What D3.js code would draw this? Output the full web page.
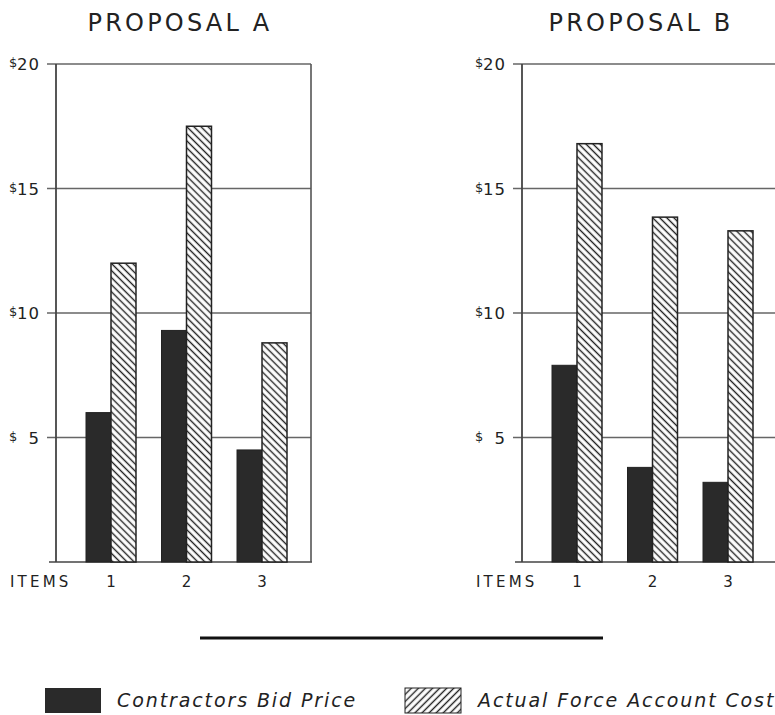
<!DOCTYPE html>
<html><head><meta charset="utf-8">
<script src="https://cdn.jsdelivr.net/npm/d3@7"></script>
<style>
html,body{margin:0;padding:0;background:#fff;}
svg{display:block;}
text{font-family:"DejaVu Sans","Liberation Sans",sans-serif;fill:#222;}
</style></head>
<body>
<svg id="c" width="775" height="715"></svg>
<script>
const proposals = ["PROPOSAL A", "PROPOSAL B"];
const categories = ["1", "2", "3"];
const seriesNames = ["Contractors Bid Price", "Actual Force Account Cost"];
const bidA = [6.0, 9.3, 4.5];
const costA = [12.0, 17.5, 8.8];
const bidB = [7.9, 3.8, 3.2];
const costB = [16.8, 13.85, 13.3];
const yTicks = [5, 10, 15, 20];
const itemsLabel = "ITEMS";

const svg = d3.select("#c");
const defs = svg.append("defs");
function hatch(id, angle){
  const p = defs.append("pattern").attr("id", id).attr("patternUnits","userSpaceOnUse")
    .attr("width",5).attr("height",5).attr("patternTransform","rotate("+angle+")");
  p.append("rect").attr("width",5).attr("height",5).attr("fill","#fff");
  p.append("line").attr("x1",0).attr("x2",5).attr("y1",2.5).attr("y2",2.5)
    .attr("stroke","#222").attr("stroke-width",1.4);
}
hatch("hatchBack", 45);
hatch("hatchFwd", -45);

const plotTop = 64, plotBottom = 562, pw = 255;
const y = d3.scaleLinear().domain([0, 20]).range([plotBottom, plotTop]);
const panels = [
  {title: proposals[0], left: 56, bid: bidA, cost: costA, cx: 180},
  {title: proposals[1], left: 522, bid: bidB, cost: costB, cx: 641}
];

panels.forEach(P => {
  const g = svg.append("g");
  const x = d3.scaleBand().domain(categories).range([P.left + 30, P.left + 231])
    .paddingInner(0.338).paddingOuter(0);
  const xs = d3.scaleBand().domain(["bid","cost"]).range([0, x.bandwidth()]);

  g.selectAll("line.grid").data(yTicks).join("line")
    .attr("x1", P.left - 9).attr("x2", P.left + pw)
    .attr("y1", d => y(d)).attr("y2", d => y(d))
    .attr("stroke", "#666").attr("stroke-width", 1.5);
  g.append("line").attr("x1", P.left - 7).attr("x2", P.left + pw + 1)
    .attr("y1", y(0)).attr("y2", y(0)).attr("stroke","#444").attr("stroke-width",1.6);
  g.append("line").attr("x1", P.left).attr("x2", P.left).attr("y1", y(20)).attr("y2", y(0))
    .attr("stroke","#444").attr("stroke-width",1.8);
  g.append("line").attr("x1", P.left + pw).attr("x2", P.left + pw).attr("y1", y(20)).attr("y2", y(0))
    .attr("stroke","#555").attr("stroke-width",1.6);

  const tl = g.selectAll("g.yt").data(yTicks).join("g").attr("transform", d => `translate(0,${y(d)})`);
  tl.append("text").attr("x", P.left - 47).attr("y", 3).attr("font-size", 13).text("$");
  tl.append("text").attr("x", P.left - 16).attr("y", 6).attr("text-anchor","end")
    .attr("font-size", 16.5).attr("letter-spacing", 1).text(d => d);

  categories.forEach((c, i) => {
    g.append("rect").attr("x", x(c) + xs("bid")).attr("width", xs.bandwidth())
      .attr("y", y(P.bid[i])).attr("height", y(0) - y(P.bid[i]))
      .attr("fill", "#2a2a2a").attr("stroke","#222").attr("stroke-width",1);
    g.append("rect").attr("x", x(c) + xs("cost")).attr("width", xs.bandwidth())
      .attr("y", y(P.cost[i])).attr("height", y(0) - y(P.cost[i]))
      .attr("fill", "url(#hatchBack)").attr("stroke","#222").attr("stroke-width",1.5);
  });

  g.selectAll("text.xl").data(categories).join("text")
    .attr("x", d => x(d) + x.bandwidth()/2).attr("y", 587).attr("text-anchor","middle")
    .attr("font-size", 15).text(d => d);
  g.append("text").attr("x", P.left - 46).attr("y", 587).attr("font-size", 15)
    .attr("letter-spacing", 3.2).text(itemsLabel);

  g.append("text").attr("x", P.cx).attr("y", 31).attr("text-anchor","middle")
    .attr("font-size", 24).attr("letter-spacing", 3.2).text(P.title);
});

svg.append("line").attr("x1", 200).attr("x2", 603).attr("y1", 638).attr("y2", 638)
  .attr("stroke", "#111").attr("stroke-width", 3);

const leg = [
  {x: 45, fill: "#2a2a2a", tx: 117},
  {x: 405, fill: "url(#hatchFwd)", tx: 478}
];
leg.forEach((L, i) => {
  svg.append("rect").attr("x", L.x).attr("y", 688).attr("width", 56).attr("height", 25)
    .attr("fill", L.fill).attr("stroke", "#222").attr("stroke-width", i ? 1 : 0);
  svg.append("text").attr("x", L.tx).attr("y", 707).attr("font-size", 19)
    .attr("font-style", "italic").attr("letter-spacing", 1.9).text(seriesNames[i]);
});
</script>
</body></html>
